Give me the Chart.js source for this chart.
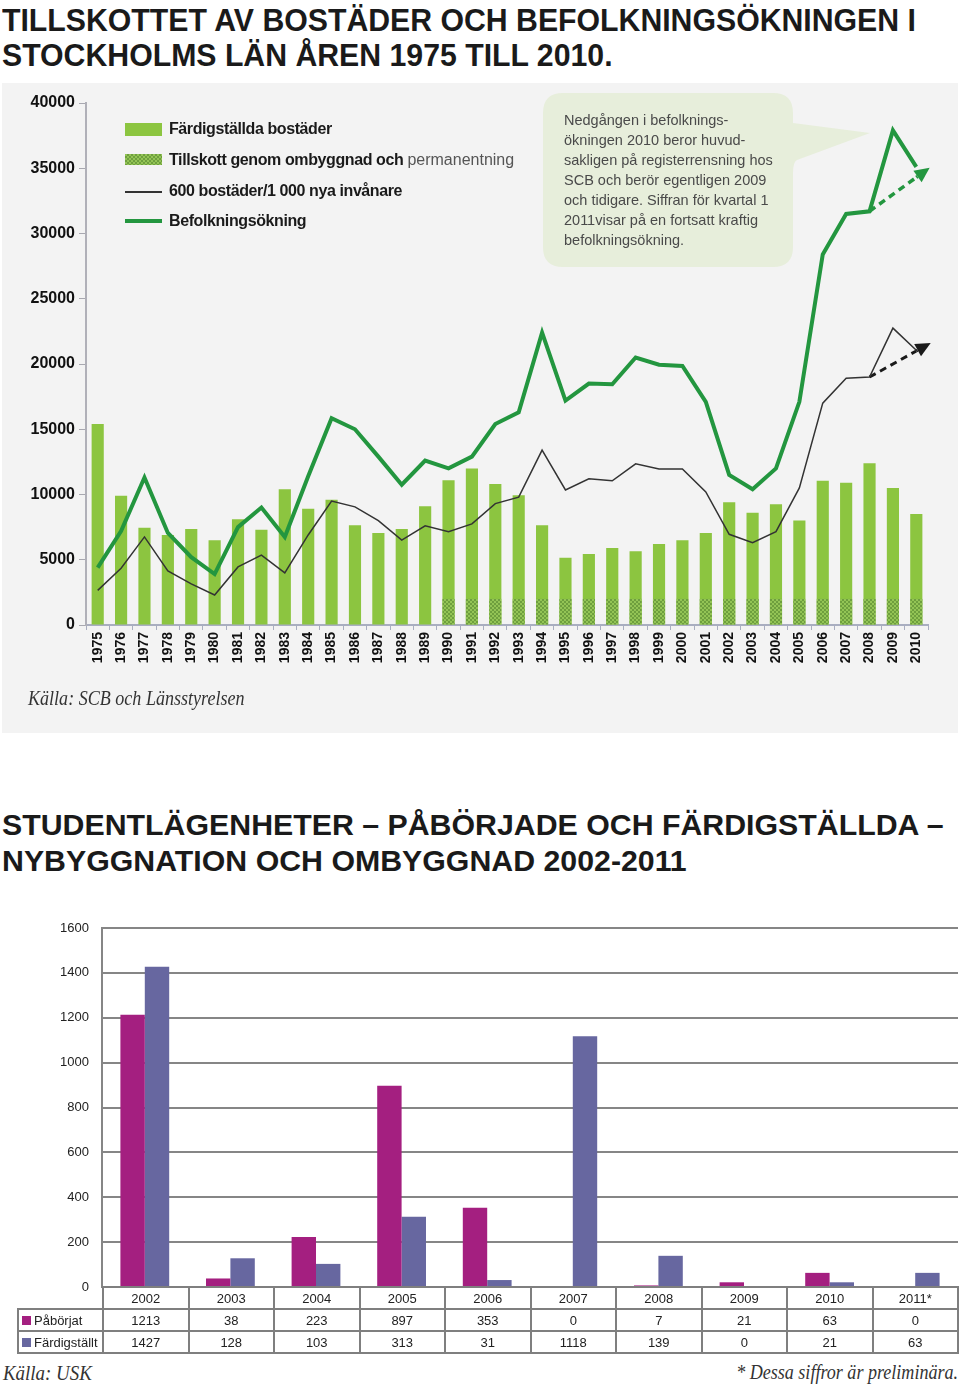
<!DOCTYPE html>
<html>
<head>
<meta charset="utf-8">
<script src="https://cdn.jsdelivr.net/npm/chart.js@4"></script>
<style>
body{margin:0;width:960px;height:1388px;position:relative;background:#fff;font-family:"Liberation Sans",Arial,sans-serif;overflow:hidden;color:#1a1a1a}
.title{position:absolute;left:2px;font-weight:bold;white-space:nowrap}
#t1{top:3px;font-size:32px;line-height:35px;transform:scaleX(0.945);transform-origin:0 0}
#t2{top:807px;font-size:30px;line-height:36px;transform:scaleX(1.01);transform-origin:0 0}
#panel{position:absolute;left:2px;top:83px;width:956px;height:650px;background:#f3f3f3}
#c1{position:absolute;left:0;top:0}
.leg{position:absolute;left:125px;font-size:16px;font-weight:bold;letter-spacing:-0.4px;white-space:nowrap;line-height:20px}
.leg .sw{position:absolute;left:0;width:37px}
.leg span.t{position:absolute;left:44px;top:0}
.leg .light{font-weight:normal;color:#555;letter-spacing:0}
#bubble{position:absolute;left:0;top:0}
#btext{position:absolute;left:564px;top:110px;font-size:14.5px;line-height:20px;color:#4a4a4a;white-space:nowrap}
.src{position:absolute;font-family:"Liberation Serif","Times New Roman",serif;font-style:italic;color:#333;white-space:nowrap}
#c2{position:absolute;left:0;top:900px}
#tbl{position:absolute;left:17px;top:1286px;border-collapse:collapse;table-layout:fixed;width:942px;font-size:13px;color:#222}
#tbl td{border:2px solid #7f7f7f;height:20px;padding:0;text-align:center;white-space:nowrap}
#tbl td.empty{border:none}
#tbl td.lab{text-align:left;padding-left:3px}
#tbl .sq{display:inline-block;width:9px;height:9px;margin-right:3px;vertical-align:0}
</style>
</head>
<body>
<div class="title" id="t1">TILLSKOTTET AV BOSTÄDER OCH BEFOLKNINGSÖKNINGEN I<br>STOCKHOLMS LÄN ÅREN 1975 TILL 2010.</div>

<div id="panel">
  <canvas id="c1" width="956" height="650"></canvas>
  <svg id="bubble" width="956" height="650">
    <path d="M561,10 H771 Q791,10 791,30 V40 L868,50 L795,77 Q791,79 791,90 V164 Q791,184 771,184 H561 Q541,184 541,164 V30 Q541,10 561,10 Z" fill="#e7eedb"/>
  </svg>
  <div class="src" style="left:26px;top:603px;font-size:21px;transform:scaleX(0.86);transform-origin:0 0">Källa: SCB och Länsstyrelsen</div>
</div>

<div class="leg" style="top:119px"><div class="sw" style="top:4px;height:13px;background:#8cc540"></div><span class="t">Färdigställda bostäder</span></div>
<div class="leg" style="top:150px"><div class="sw" style="top:4px;height:11px;background:repeating-conic-gradient(#6e9f3e 0 25%,#93c455 0 50%) 0 0/4px 4px"></div><span class="t">Tillskott genom ombyggnad och <span class="light">permanentning</span></span></div>
<div class="leg" style="top:181px"><div class="sw" style="top:10px;height:0;border-top:2px solid #333"></div><span class="t">600 bostäder/1 000 nya invånare</span></div>
<div class="leg" style="top:211px"><div class="sw" style="top:8px;height:0;border-top:4px solid #23963f"></div><span class="t">Befolkningsökning</span></div>

<div id="btext">Nedgången i befolknings-<br>ökningen 2010 beror huvud-<br>sakligen på registerrensning hos<br>SCB och berör egentligen 2009<br>och tidigare. Siffran för kvartal 1<br>2011visar på en fortsatt kraftig<br>befolkningsökning.</div>

<div class="title" id="t2">STUDENTLÄGENHETER – PÅBÖRJADE OCH FÄRDIGSTÄLLDA –<br>NYBYGGNATION OCH OMBYGGNAD 2002-2011</div>

<canvas id="c2" width="960" height="410"></canvas>
<table id="tbl"></table>

<div class="src" style="left:3px;top:1360px;font-size:22px;transform:scaleX(0.86);transform-origin:0 0">Källa: USK</div>
<div class="src" style="right:2px;top:1360px;font-size:21px;transform:scaleX(0.86);transform-origin:100% 0">* Dessa siffror är preliminära.</div>

<script>
// ---- top chart data
var years = ['1975','1976','1977','1978','1979','1980','1981','1982','1983','1984','1985','1986',
  '1987','1988','1989','1990','1991','1992','1993','1994','1995','1996','1997','1998','1999',
  '2000','2001','2002','2003','2004','2005','2006','2007','2008','2009','2010'];
var fardigstallda = [15400, 9900, 7450, 6900, 7350, 6500, 8100, 7300, 10400, 8900, 9600, 7650,
  7050, 7350, 9100, 11100, 12000, 10800, 9950, 7650, 5150, 5450, 5900, 5650, 6200,
  6500, 7050, 9400, 8600, 9250, 8000, 11050, 10900, 12400, 10500, 8500];
var tillskott = [null, null, null, null, null, null, null, null, null, null, null, null,
  null, null, null, 2000, 2000, 2000, 2000, 2000, 2000, 2000, 2000, 2000, 2000,
  2000, 2000, 2000, 2000, 2000, 2000, 2000, 2000, 2000, 2000, 2000];
var befolkning = [4400, 7200, 11300, 7050, 5200, 3900, 7500, 9000, 6750, 11400, 15850, 15000,
  12900, 10750, 12600, 12000, 12900, 15400, 16300, 22400, 17200, 18500, 18450, 20500, 19950,
  19850, 17100, 11500, 10400, 12000, 17100, 28400, 31500, 31700, 37900, 35100];
var bostaderPer1000 = [2650, 4350, 6750, 4150, 3150, 2300, 4450, 5350, 4000, 6900, 9500, 9050,
  8000, 6500, 7600, 7150, 7750, 9300, 9800, 13400, 10350, 11200, 11050, 12350, 11950,
  11950, 10200, 6950, 6300, 7150, 10500, 17000, 18900, 19000, 22750, 21050];
var trendYears = ['2008', '2010'];
var trendBefolkning = [31700, 34300];
var trendBostader = [19000, 21000];
var yTicks1 = [0, 5000, 10000, 15000, 20000, 25000, 30000, 35000, 40000];

// ---- bottom chart data
var studYears = ['2002','2003','2004','2005','2006','2007','2008','2009','2010','2011*'];
var paborjat = [1213, 38, 223, 897, 353, 0, 7, 21, 63, 0];
var fardigstallt = [1427, 128, 103, 313, 31, 1118, 139, 0, 21, 63];
var yTicks2 = [0, 200, 400, 600, 800, 1000, 1200, 1400, 1600];

var colPab = '#a41f80', colFard = '#6767a0';

// hatched fill for the bottom part of the bars
var pc = document.createElement('canvas');
pc.width = 4; pc.height = 4;
var p = pc.getContext('2d');
p.fillStyle = '#93c455'; p.fillRect(0, 0, 4, 4);
p.fillStyle = '#6e9f3e'; p.fillRect(0, 0, 2, 2); p.fillRect(2, 2, 2, 2);
var hatch = p.createPattern(pc, 'repeat');

// arrow at the end of dashed lines
var arrowPlugin = {
  id: 'arrowHead',
  afterDatasetsDraw: function(chart) {
    var ctx = chart.ctx;
    chart.data.datasets.forEach(function(ds, i) {
      if (!ds.arrowHead) return;
      var pts = chart.getDatasetMeta(i).data;
      var a = pts[pts.length - 2], b = pts[pts.length - 1];
      var ang = Math.atan2(b.y - a.y, b.x - a.x);
      var L = 15, W = 7;
      var cx = Math.cos(ang), sy = Math.sin(ang);
      var tx = b.x + cx * L * 1.1, ty = b.y + sy * L * 1.1;
      ctx.save();
      ctx.fillStyle = ds.borderColor;
      ctx.beginPath();
      ctx.moveTo(tx, ty);
      ctx.lineTo(tx - cx * L - sy * W, ty - sy * L + cx * W);
      ctx.lineTo(tx - cx * L + sy * W, ty - sy * L - cx * W);
      ctx.closePath();
      ctx.fill();
      // short dash joining line end and arrow base
      ctx.strokeStyle = ds.borderColor;
      ctx.lineWidth = ds.borderWidth;
      ctx.beginPath();
      ctx.moveTo(b.x, b.y);
      ctx.lineTo(tx - cx * L, ty - sy * L);
      ctx.stroke();
      ctx.restore();
    });
  }
};

new Chart(document.getElementById('c1'), {
  type: 'bar',
  data: {
    labels: years,
    datasets: [
      { type: 'line', label: 'Befolkningsökning', data: befolkning, borderColor: '#23963f',
        borderWidth: 4, pointRadius: 0, order: 0 },
      { type: 'line', label: 'Befolkningsökning prognos',
        data: trendYears.map(function(y, i) { return { x: y, y: trendBefolkning[i] }; }),
        borderColor: '#23963f', borderWidth: 3.5, borderDash: [7, 5], pointRadius: 0, arrowHead: true, order: 0 },
      { type: 'line', label: '600 bostäder/1 000 nya invånare', data: bostaderPer1000, borderColor: '#333',
        borderWidth: 1.5, pointRadius: 0, order: 1 },
      { type: 'line', label: '600 bostäder prognos',
        data: trendYears.map(function(y, i) { return { x: y, y: trendBostader[i] }; }),
        borderColor: '#1a1a1a', borderWidth: 3, borderDash: [7, 5], pointRadius: 0, arrowHead: true, order: 1 },
      { label: 'Tillskott genom ombyggnad och permanentning', data: tillskott, backgroundColor: hatch,
        barPercentage: 0.52, categoryPercentage: 1, grouped: false, order: 2 },
      { label: 'Färdigställda bostäder', data: fardigstallda, backgroundColor: '#8cc540',
        barPercentage: 0.52, categoryPercentage: 1, grouped: false, order: 3 }
    ]
  },
  options: {
    responsive: false,
    animation: false,
    layout: { padding: { top: 20, right: 30, left: 0, bottom: 0 } },
    plugins: { legend: { display: false }, tooltip: { enabled: false } },
    scales: {
      x: {
        grid: { offset: true, drawOnChartArea: false, tickLength: 5, color: '#a9aec0' },
        border: { color: '#a9aec0', width: 2 },
        ticks: { autoSkip: false, maxRotation: 90, minRotation: 90, padding: 2, color: '#111',
          font: { family: 'Liberation Sans', size: 14, weight: 'bold' } },
        afterFit: function(s) { s.height = 108; }
      },
      y: {
        min: 0, max: 40000,
        afterBuildTicks: function(s) { s.ticks = yTicks1.map(function(v) { return { value: v }; }); },
        ticks: { padding: 4, color: '#111', font: { family: 'Liberation Sans', size: 16, weight: 'bold' },
          callback: function(v) { return String(v); } },
        grid: { drawOnChartArea: false, tickLength: 7, color: '#a8a8b0' },
        border: { color: '#b0b0b8', width: 2 },
        afterFit: function(s) { s.width = 84; }
      }
    }
  },
  plugins: [arrowPlugin]
});

new Chart(document.getElementById('c2'), {
  type: 'bar',
  data: {
    labels: studYears,
    datasets: [
      { label: 'Påbörjat', data: paborjat, backgroundColor: colPab, barPercentage: 1, categoryPercentage: 0.57 },
      { label: 'Färdigställt', data: fardigstallt, backgroundColor: colFard, barPercentage: 1, categoryPercentage: 0.57 }
    ]
  },
  options: {
    responsive: false,
    animation: false,
    layout: { padding: { top: 28, right: 2, left: 0, bottom: 0 } },
    plugins: { legend: { display: false }, tooltip: { enabled: false } },
    scales: {
      x: {
        grid: { display: false },
        border: { display: false },
        ticks: { display: false },
        afterFit: function(s) { s.height = 23; }
      },
      y: {
        min: 0, max: 1600,
        afterBuildTicks: function(s) { s.ticks = yTicks2.map(function(v) { return { value: v }; }); },
        ticks: { padding: 13, color: '#222', font: { family: 'Liberation Sans', size: 13 },
          callback: function(v) { return String(v); } },
        grid: { color: '#868686', lineWidth: 2, drawTicks: false },
        border: { color: '#868686', width: 2 },
        afterFit: function(s) { s.width = 102; }
      }
    }
  }
});

// data table under the bottom chart
var tbl = document.getElementById('tbl');
var html = '<colgroup><col style="width:85px">' + studYears.map(function() { return '<col>'; }).join('') + '</colgroup>';
html += '<tr><td class="empty"></td>' + studYears.map(function(y) { return '<td>' + y + '</td>'; }).join('') + '</tr>';
html += '<tr><td class="lab"><span class="sq" style="background:' + colPab + '"></span>Påbörjat</td>' +
  paborjat.map(function(v) { return '<td>' + v + '</td>'; }).join('') + '</tr>';
html += '<tr><td class="lab"><span class="sq" style="background:' + colFard + '"></span>Färdigställt</td>' +
  fardigstallt.map(function(v) { return '<td>' + v + '</td>'; }).join('') + '</tr>';
tbl.innerHTML = html;
</script>
</body>
</html>
